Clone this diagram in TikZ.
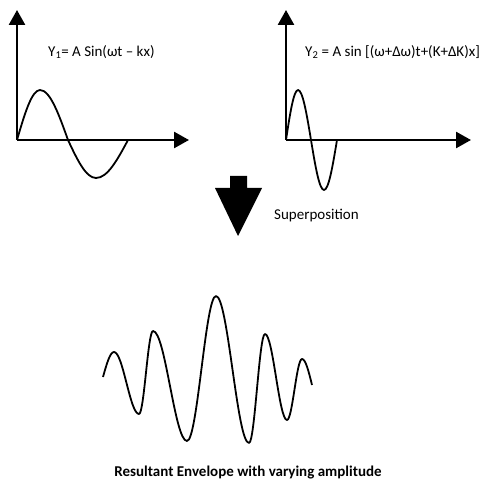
\documentclass[tikz,border=0pt]{standalone}
\usepackage{fontspec}
\setmainfont{Carlito}
\usetikzlibrary{arrows.meta}

\begin{document}
\begin{tikzpicture}[
  x=1pt,y=-1pt,
  axis/.style={line width=2.6pt,-{Triangle[length=15pt,width=16pt]}},
  wave/.style={line width=1.8pt,line join=round},
  label/.style={font=\fontsize{15}{18}\selectfont,inner sep=0pt}
]
  \useasboundingbox (0,0) rectangle (496,492);

  % First wave
  \coordinate (O1) at (17,140);
  \draw[axis] (O1) -- (17,10);
  \draw[axis] (O1) -- (189,140);
  \draw[wave] (O1) sin (40,90) cos (68,140) sin (96,178) cos (128,140);
  \node[label,anchor=west] (y1) at (48,52) {Y\textsubscript{1}= A Sin(ωt – kx)};

  % Second wave
  \coordinate (O2) at (286,140);
  \draw[axis] (O2) -- (286,10);
  \draw[axis] (O2) -- (471,140);
  \draw[wave] (O2) sin (298,90) cos (311,140) sin (324,190) cos (337,140);
  \node[label,anchor=west] (y2) at (305,52)
    {Y\textsubscript{2} = A sin [(ω+Δω)t+(K+ΔK)x]};

  % Superposition arrow
  \fill (230,176) -- (247,176) -- (247,188) -- (262,188) -- (238,236)
    -- (215,188) -- (230,188) -- cycle;
  \node[label,anchor=west] (sup) at (274,216) {Superposition};

  % Resultant envelope
  \draw[wave] (103,377) sin (114,352) cos (126.5,383) sin (139,414)
    cos (146,372.5) sin (153,331) cos (170,386) sin (187,441)
    cos (201.5,368.5) sin (216,296) cos (232.5,369.5) sin (249,443)
    cos (257,388.5) sin (265,334) cos (276,377) sin (287,420)
    cos (294.5,389.5) sin (302,359) cos (312,385);
  \node[label,font=\fontsize{15}{18}\selectfont\bfseries] (res) at (248,473)
    {Resultant Envelope with varying amplitude};
\end{tikzpicture}
\end{document}
